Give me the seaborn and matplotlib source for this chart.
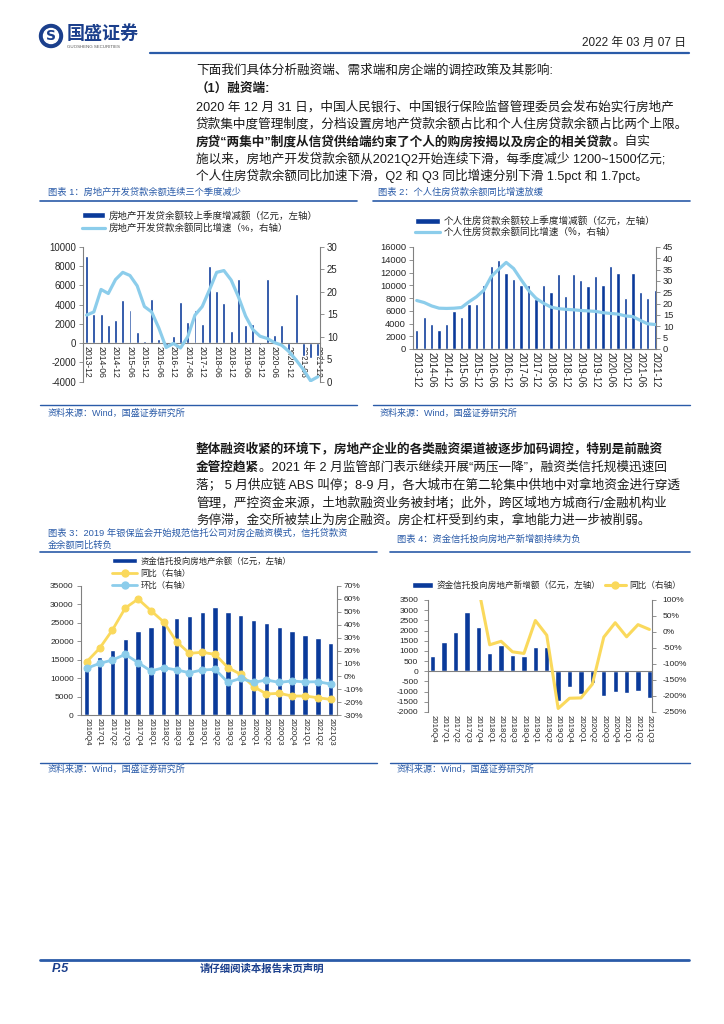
import numpy as np
import matplotlib
matplotlib.use("Agg")
import matplotlib.pyplot as plt
import seaborn as sns
from matplotlib.patches import Patch, Circle
from matplotlib.lines import Line2D

sns.set_style("white")
plt.rcParams['font.family'] = ['Liberation Sans', 'Noto Sans CJK SC', 'DejaVu Sans']
plt.rcParams['axes.unicode_minus'] = False

# === цвета ===
BAR = "#0A3A9A"
LIGHT = "#8CCDEB"
YELLOW = "#FAD95C"
NAVY = "#1B3F8C"
BLUE_LINE = "#2A5BA8"
TITLE_BLUE = "#2A5BA8"
AXIS = "#808080"

W, H = 724, 1024

# === данные: график 1 и 2 (квартально 2013-12 .. 2021-12) ===
months_q = ["2013-12", "2014-03", "2014-06", "2014-09", "2014-12", "2015-03", "2015-06",
            "2015-09", "2015-12", "2016-03", "2016-06", "2016-09", "2016-12", "2017-03",
            "2017-06", "2017-09", "2017-12", "2018-03", "2018-06", "2018-09", "2018-12",
            "2019-03", "2019-06", "2019-09", "2019-12", "2020-03", "2020-06", "2020-09",
            "2020-12", "2021-03", "2021-06", "2021-09", "2021-12"]

dev_loan_change = [9000, 3000, 3000, 1900, 2400, 4500, 3400, 1200, 200, 4600, 400, -300,
                   700, 4300, 2200, 3400, 2000, 8000, 5400, 4200, 1300, 6600, 1900, 2000,
                   -200, 6700, 800, 1900, -1000, 5100, -1300, -1500, -1300]
dev_loan_yoy = [14.8, 15.5, 20.5, 19.6, 22.7, 24.3, 23.6, 21.3, 16.7, 15.5, 11.9, 7.6,
                8.5, 7.5, 10.0, 14.8, 16.7, 20.4, 24.3, 24.7, 22.6, 18.9, 14.6, 11.6,
                10.1, 9.6, 8.7, 8.1, 6.7, 4.8, 2.7, 0.2, 1.1]

mortgage_change = [3000, 5000, 4000, 3000, 4000, 6000, 5000, 7000, 7000, 10000, 13000,
                   14000, 12000, 11000, 10000, 10000, 7800, 10000, 9000, 11700, 8300,
                   11700, 10900, 9900, 11500, 10000, 13000, 12000, 8000, 12000, 9000,
                   8000, 9200]
mortgage_yoy = [21.4, 20.5, 19.0, 18.0, 17.9, 18.0, 18.3, 20.8, 23.0, 25.9, 32.0, 35.2,
                38.2, 35.5, 30.6, 25.9, 22.4, 20.2, 18.5, 17.8, 17.5, 17.3, 17.0, 16.8,
                16.6, 16.0, 15.7, 15.4, 14.6, 14.3, 12.6, 11.1, 10.8]

# === данные: график 3 и 4 (2016Q4 .. 2021Q3) ===
quarters = ["2016Q4", "2017Q1", "2017Q2", "2017Q3", "2017Q4", "2018Q1", "2018Q2",
            "2018Q3", "2018Q4", "2019Q1", "2019Q2", "2019Q3", "2019Q4", "2020Q1",
            "2020Q2", "2020Q3", "2020Q4", "2021Q1", "2021Q2", "2021Q3"]

trust_balance = [14000, 15800, 17600, 20600, 22800, 23800, 24900, 26200, 26900, 28000,
                 29400, 27900, 27000, 25800, 25000, 23800, 22800, 21700, 20800, 19400]
trust_yoy = [11.3, 21.7, 35.9, 52.9, 59.9, 50.9, 42.1, 26.8, 17.8, 18.6, 17.0, 6.7, 1.5,
             -8.0, -13.7, -13.2, -15.3, -15.3, -16.6, -17.9]
trust_qoq = [6.2, 10.0, 12.6, 17.0, 10.6, 4.1, 6.7, 4.9, 2.8, 4.9, 5.4, -4.7, -1.6, -4.7,
             -2.9, -4.7, -3.6, -4.4, -4.2, -6.0]

trust_new = [760, 1440, 1930, 2920, 2160, 890, 1300, 800, 730, 1180, 1210, -1480, -780,
             -1110, -580, -1230, -1000, -1060, -960, -1300]
trust_new_yoy = [np.nan, np.nan, np.nan, np.nan, 140, -40, -29, -62, -67, 36, -10, -239,
                 -207, -206, -163, -16, 29, -15, 23, 8]

# === тексты страницы ===
para1 = [
    [("下面我们具体分析融资端、需求端和房企端的调控政策及其影响:", False)],
    [("（1）融资端:", True)],
    [("2020 年 12 月 31 日，中国人民银行、中国银行保险监督管理委员会发布始实行房地产", False)],
    [("贷款集中度管理制度，分档设置房地产贷款余额占比和个人住房贷款余额占比两个上限。", False)],
    [("房贷“两集中”制度从信贷供给端约束了个人的购房按揭以及房企的相关贷款", True), ("。自实", False)],
    [("施以来，房地产开发贷款余额从2021Q2开始连续下滑，每季度减少 1200~1500亿元;", False)],
    [("个人住房贷款余额同比加速下滑，Q2 和 Q3 同比增速分别下滑 1.5pct 和 1.7pct。", False)],
]
para2 = [
    [("整体融资收紧的环境下，房地产企业的各类融资渠道被逐步加码调控，特别是前融资", True)],
    [("金管控趋紧", True), ("。2021 年 2 月监管部门表示继续开展“两压一降”，融资类信托规模迅速回", False)],
    [("落； 5 月供应链 ABS 叫停；8-9 月，各大城市在第二轮集中供地中对拿地资金进行穿透", False)],
    [("管理，严控资金来源，土地款融资业务被封堵；此外，跨区域地方城商行/金融机构业", False)],
    [("务停滞，金交所被禁止为房企融资。房企杠杆受到约束，拿地能力进一步被削弱。", False)],
]
para1_y = [71, 89, 107, 124, 142, 159, 176]
para2_y = [449, 467, 485, 503, 520]

source = "资料来源：Wind，国盛证券研究所"


def rect(x0, y0, x1, y1):
    return [x0 / W, 1 - y1 / H, (x1 - x0) / W, (y1 - y0) / H]


def style_pair(ax, axr, ysize, xsize):
    for s in ['top', 'right']:
        ax.spines[s].set_visible(False)
    for s in ['top', 'left', 'bottom']:
        axr.spines[s].set_visible(False)
    for a in (ax, axr):
        for s in a.spines.values():
            s.set_color(AXIS)
            s.set_linewidth(0.8)
        a.set_xlabel('')
        a.set_ylabel('')
        a.grid(False)
    ax.tick_params(axis='y', labelsize=ysize, length=3, width=0.6, color=AXIS, pad=2, left=True)
    axr.tick_params(axis='y', labelsize=ysize, length=3, width=0.6, color=AXIS, pad=2, right=True)
    ax.tick_params(axis='x', labelsize=xsize, length=0, pad=2)


fig = plt.figure(figsize=(7.24, 10.24), dpi=100)
page = fig.add_axes([0, 0, 1, 1])
page.set_xlim(0, W)
page.set_ylim(H, 0)
page.axis('off')
renderer = fig.canvas.get_renderer()

# --- шапка ---
page.add_patch(Circle((51, 36), 11.5, color=NAVY))
page.add_patch(Circle((51, 36), 7.5, color="white"))
page.text(51, 36.5, 'S', color=NAVY, fontsize=10, fontweight='bold', ha='center', va='center',
          family='DejaVu Sans')
page.text(67, 34, '国盛证券', fontsize=13, fontweight='bold', color=NAVY, va='center')
page.text(67, 46.5, 'GUOSHENG SECURITIES', fontsize=3.2, color='#555555', va='center')
page.plot([150, 689], [53, 53], color=BLUE_LINE, lw=1.6)
page.text(686, 43, '2022 年 03 月 07 日', fontsize=8.5, ha='right', va='center', color='#222222')


def body(lines, ys):
    for parts, y in zip(lines, ys):
        x = 196
        for txt, bold in parts:
            t = page.text(x, y, txt, fontsize=9.1, fontweight='bold' if bold else 'normal',
                          va='center', ha='left', color='#1a1a1a')
            x = t.get_window_extent(renderer=renderer).x1


body(para1, para1_y)
body(para2, para2_y)

# --- заголовки и подписи к графикам ---
def header(x, ys, lines, x0, x1, yline):
    for y, s in zip(ys, lines):
        page.text(x, y, s, fontsize=6.7, color=TITLE_BLUE, va='center')
    page.plot([x0, x1], [yline, yline], color=BLUE_LINE, lw=1.2)


def footer(x, y, x0, x1, yline):
    page.plot([x0, x1], [yline, yline], color=BLUE_LINE, lw=1.0)
    page.text(x, y, source, fontsize=6.5, color=TITLE_BLUE, va='center')


header(48, [192], ["图表 1：房地产开发贷款余额连续三个季度减少"], 40, 357, 201)
header(378, [192], ["图表 2：个人住房贷款余额同比增速放缓"], 373, 690, 201)
header(48, [533, 545], ["图表 3：2019 年银保监会开始规范信托公司对房企融资模式，信托贷款资",
                        "金余额同比转负"], 40, 377, 552)
header(397, [539], ["图表 4：资金信托投向房地产新增额持续为负"], 390, 690, 552)
footer(48, 413, 40, 357, 405)
footer(380, 413, 373, 690, 405)
footer(48, 769, 40, 377, 763)
footer(397, 769, 390, 690, 763)

# === график 1 ===
ax1 = fig.add_axes(rect(83, 246.7, 320, 381.7))
sns.barplot(x=months_q, y=dev_loan_change, ax=ax1, color=BAR, saturation=1, width=0.4)
ax1r = ax1.twinx()
sns.lineplot(x=np.arange(len(months_q)), y=dev_loan_yoy, ax=ax1r, color=LIGHT, lw=2.3)
ax1.set_ylim(-4000, 10000)
ax1.set_yticks(range(-4000, 10001, 2000))
ax1r.set_ylim(0, 30)
ax1r.set_yticks(range(0, 31, 5))
ax1.set_xlim(-0.5, 32.3)
# ось категорий проходит через ноль, подписи идут сразу под ней
ax1.spines['bottom'].set_position(('data', 0))
ax1.set_xticks(range(0, len(months_q), 2))
ax1.set_xticklabels(months_q[::2], rotation=-90)
style_pair(ax1, ax1r, 6.9, 6.2)
ax1r.legend(handles=[Patch(facecolor=BAR), Line2D([], [], color=LIGHT, lw=2.3)],
            labels=["房地产开发贷余额较上季度增减额（亿元，左轴）", "房地产开发贷款余额同比增速（%，右轴）"],
            loc='upper left', bbox_to_anchor=(82 / W, 1 - 211 / H), bbox_transform=fig.transFigure,
            frameon=False, fontsize=6.8, handlelength=2.4, handleheight=0.6, handletextpad=0.4,
            labelspacing=0.25, borderpad=0, borderaxespad=0)

# === график 2 ===
ax2 = fig.add_axes(rect(413, 247, 656, 349))
sns.barplot(x=months_q, y=mortgage_change, ax=ax2, color=BAR, saturation=1, width=0.45)
ax2r = ax2.twinx()
sns.lineplot(x=np.arange(len(months_q)), y=mortgage_yoy, ax=ax2r, color=LIGHT, lw=2.3)
ax2.set_ylim(0, 16000)
ax2.set_yticks(range(0, 16001, 2000))
ax2r.set_ylim(0, 45)
ax2r.set_yticks(range(0, 46, 5))
ax2.set_xlim(-0.5, 32.1)
ax2.set_xticks(range(0, len(months_q), 2))
ax2.set_xticklabels(months_q[::2], rotation=-90)
style_pair(ax2, ax2r, 6.7, 7.0)
ax2r.legend(handles=[Patch(facecolor=BAR), Line2D([], [], color=LIGHT, lw=2.3)],
            labels=["个人住房贷款余额较上季度增减额（亿元，左轴）", "个人住房贷款余额同比增速（%，右轴）"],
            loc='upper left', bbox_to_anchor=(415 / W, 1 - 216 / H), bbox_transform=fig.transFigure,
            frameon=False, fontsize=6.9, handlelength=2.6, handleheight=0.6, handletextpad=0.4,
            labelspacing=0.1, borderpad=0, borderaxespad=0)

# === график 3 ===
ax3 = fig.add_axes(rect(80.7, 586, 336.7, 715))
sns.barplot(x=quarters, y=trust_balance, ax=ax3, color=BAR, saturation=1, width=0.42)
ax3r = ax3.twinx()
xq = np.arange(len(quarters))
sns.lineplot(x=xq, y=trust_yoy, ax=ax3r, color=YELLOW, lw=2, marker='o', ms=5, mec=YELLOW)
sns.lineplot(x=xq, y=trust_qoq, ax=ax3r, color=LIGHT, lw=2, marker='o', ms=5, mec=LIGHT)
ax3.set_ylim(0, 35000)
ax3.set_yticks(range(0, 35001, 5000))
ax3r.set_ylim(-30, 70)
ax3r.set_yticks(range(-30, 71, 10))
ax3r.set_yticklabels([f"{v}%" for v in range(-30, 71, 10)])
ax3.set_xlim(-0.47, 19.47)
ax3.set_xticks(xq)
ax3.set_xticklabels(quarters, rotation=-90)
style_pair(ax3, ax3r, 6.0, 5.6)
ax3r.legend(handles=[Patch(facecolor=BAR),
                     Line2D([], [], color=YELLOW, lw=2, marker='o', ms=5),
                     Line2D([], [], color=LIGHT, lw=2, marker='o', ms=5)],
            labels=["资金信托投向房地产余额（亿元，左轴）", "同比（右轴）", "环比（右轴）"],
            loc='upper left', bbox_to_anchor=(112 / W, 1 - 557 / H), bbox_transform=fig.transFigure,
            frameon=False, fontsize=6.0, handlelength=3.0, handleheight=0.6, handletextpad=0.4,
            labelspacing=0.45, borderpad=0, borderaxespad=0)

# === график 4 ===
ax4 = fig.add_axes(rect(428, 600, 651.7, 712))
sns.barplot(x=quarters, y=trust_new, ax=ax4, color=BAR, saturation=1, width=0.47)
ax4r = ax4.twinx()
sns.lineplot(x=xq, y=trust_new_yoy, ax=ax4r, color=YELLOW, lw=2.2)
ax4.axhline(0, color=AXIS, lw=0.8)
ax4.set_ylim(-2000, 3500)
ax4.set_yticks(range(-2000, 3501, 500))
ax4r.set_ylim(-250, 100)
ax4r.set_yticks(range(-250, 101, 50))
ax4r.set_yticklabels([f"{v}%" for v in range(-250, 101, 50)])
ax4.set_xlim(-0.41, 19.2)
ax4.set_xticks(xq)
ax4.set_xticklabels(quarters, rotation=-90)
style_pair(ax4, ax4r, 6.0, 5.6)
ax4.spines['bottom'].set_visible(False)
ax4r.tick_params(axis='y', pad=5)
ax4.tick_params(axis='y', pad=4)
ax4r.legend(handles=[Patch(facecolor=BAR), Line2D([], [], color=YELLOW, lw=2.2, marker='o', ms=5)],
            labels=["资金信托投向房地产新增额（亿元，左轴）", "同比（右轴）"], ncol=2,
            loc='upper left', bbox_to_anchor=(412 / W, 1 - 581 / H), bbox_transform=fig.transFigure,
            frameon=False, fontsize=6.2, handlelength=2.4, handleheight=0.6, handletextpad=0.4,
            columnspacing=0.6, borderpad=0, borderaxespad=0)

# --- подвал ---
page.plot([40, 689], [960, 960], color=BLUE_LINE, lw=2)
page.text(52, 969, 'P.5', fontsize=9, fontweight='bold', style='italic', color=NAVY, va='center')
page.text(200, 969, '请仔细阅读本报告末页声明', fontsize=7.5, fontweight='bold', color=NAVY, va='center')

fig.savefig("out.png", dpi=100)
plt.close(fig)
